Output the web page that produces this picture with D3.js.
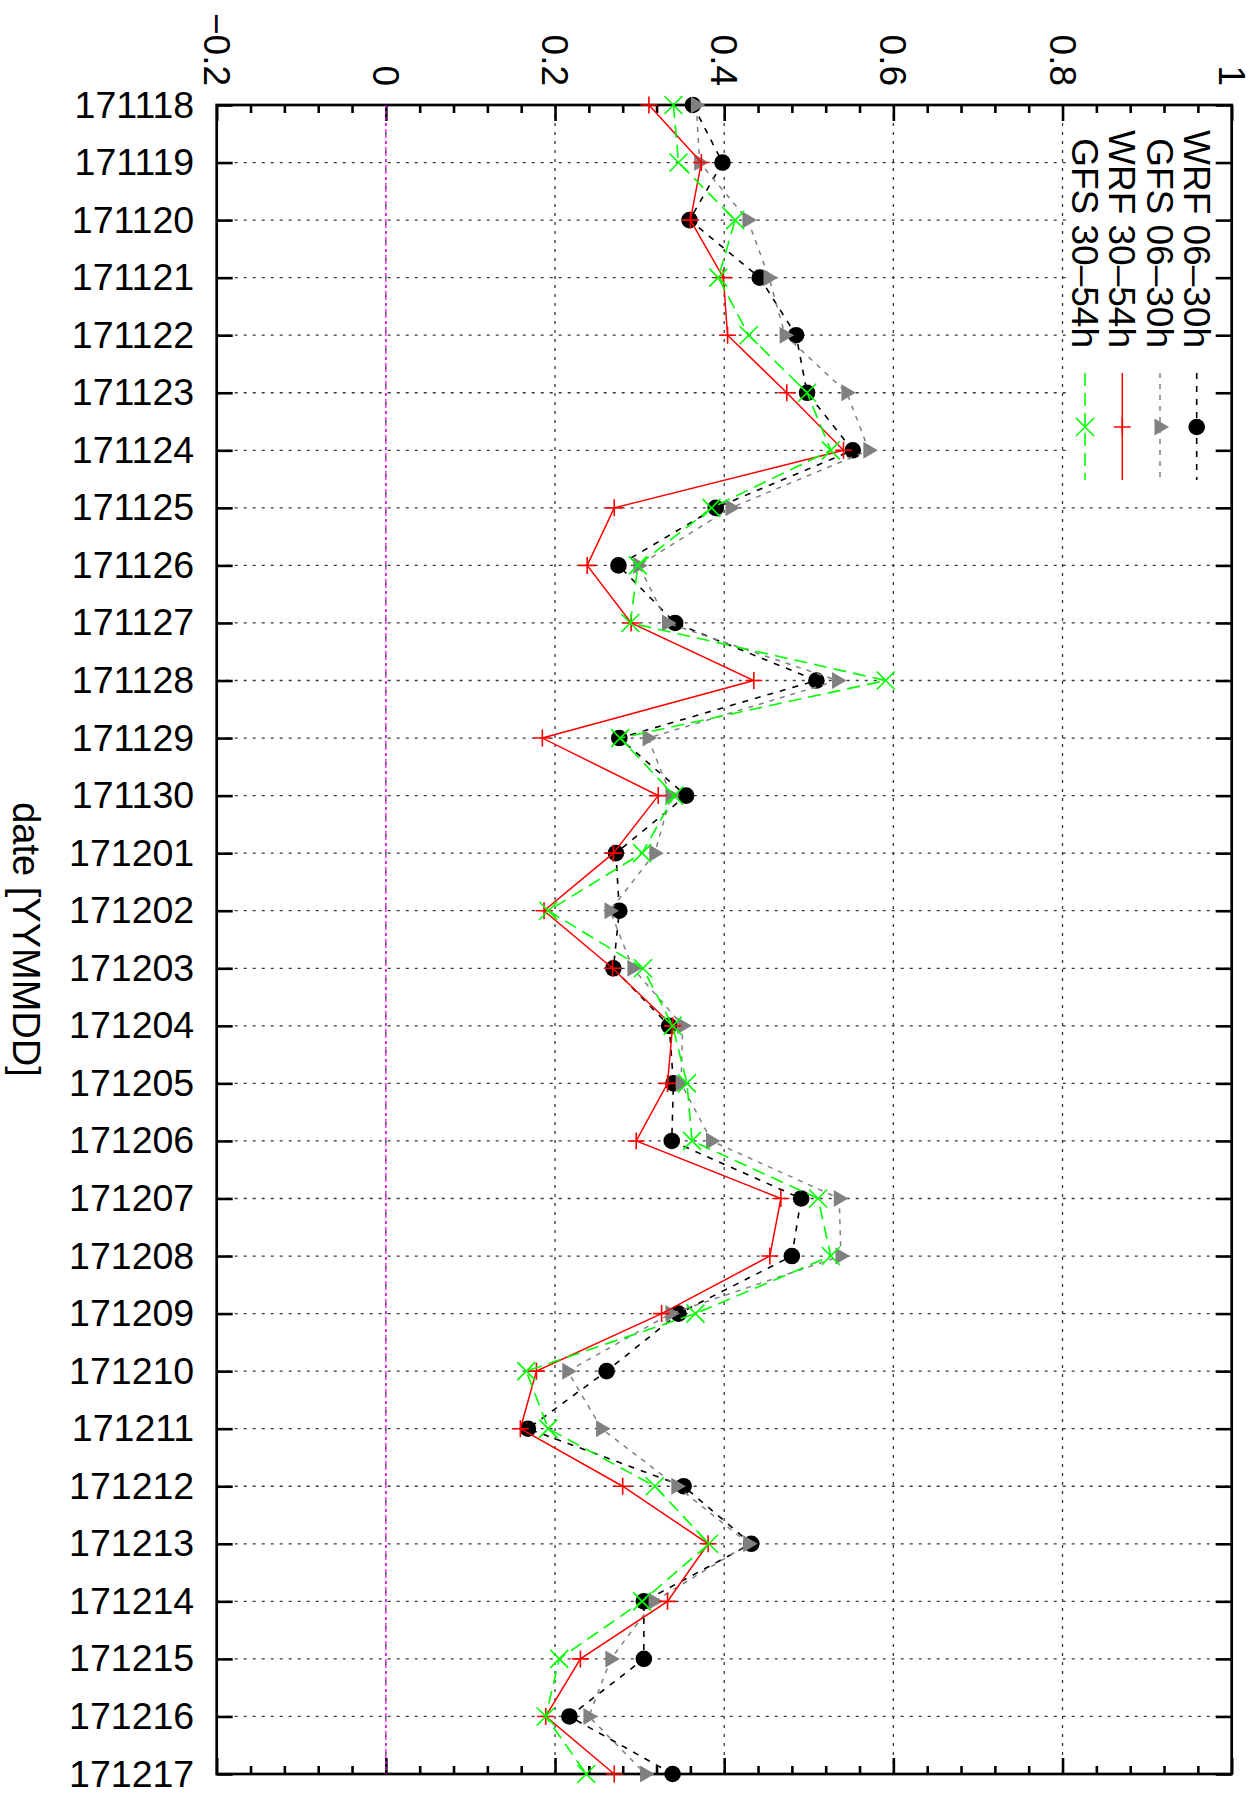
<!DOCTYPE html>
<html>
<head>
<meta charset="utf-8">
<script src="https://cdn.jsdelivr.net/npm/d3@7"></script>
<style>
  html, body { margin: 0; padding: 0; background: #fff; }
  svg { display: block; }
  text { font-family: "Liberation Sans", Arial, Helvetica, sans-serif; fill: #000; }
</style>
</head>
<body>
<svg id="chart" width="1257" height="1796"></svg>
<script>
// ---------------- data ----------------
const dates = ["171118","171119","171120","171121","171122","171123","171124","171125","171126","171127",
  "171128","171129","171130","171201","171202","171203","171204","171205","171206","171207",
  "171208","171209","171210","171211","171212","171213","171214","171215","171216","171217"];

const wrf0630 = [0.363,0.398,0.359,0.442,0.485,0.498,0.552,0.390,0.275,0.342,
  0.509,0.276,0.355,0.272,0.276,0.269,0.335,0.340,0.338,0.491,
  0.480,0.346,0.261,0.168,0.352,0.432,0.305,0.305,0.217,0.339];

const gfs0630 = [0.367,0.371,0.428,0.453,0.472,0.545,0.571,0.408,0.299,0.333,
  0.534,0.310,0.337,0.318,0.265,0.292,0.351,0.349,0.385,0.536,
  0.538,0.337,0.215,0.255,0.344,0.429,0.317,0.266,0.240,0.307];

const wrf3054 = [0.311,0.373,0.360,0.399,0.404,0.474,0.541,0.270,0.238,0.290,
  0.435,0.185,0.322,0.269,0.187,0.268,0.339,0.333,0.296,0.467,
  0.454,0.326,0.178,0.159,0.280,0.381,0.333,0.230,0.189,0.270];

const gfs3054 = [0.340,0.346,0.413,0.393,0.429,0.498,0.526,0.385,0.298,0.289,
  0.591,0.277,0.341,0.303,0.192,0.304,0.339,0.356,0.362,0.511,
  0.526,0.366,0.166,0.192,0.318,0.382,0.303,0.205,0.189,0.237];

const seriesNames = ["WRF 06–30h","GFS 06–30h","WRF 30–54h","GFS 30–54h"];
const valueTicks = [-0.2,0,0.2,0.4,0.6,0.8,1];
const valueTickLabels = ["−0.2","0","0.2","0.4","0.6","0.8","1"];
const axisTitle = "date [YYMMDD]";

// ---------------- layout ----------------
const L = 216.7, R = 1231.7, T = 105, B = 1774;
const svg = d3.select("#chart");
svg.append("rect").attr("width",1257).attr("height",1796).attr("fill","#fff");

const x = d3.scaleLinear().domain([-0.2, 1]).range([L, R]);
const y = d3.scalePoint().domain(dates).range([T, B]);

const styles = [
  {name: seriesNames[0], values: wrf0630, color:"#000000", dash:"6,7", width:1.6, sym:"dot"},
  {name: seriesNames[1], values: gfs0630, color:"#808080", dash:"5,6", width:1.5, sym:"tri"},
  {name: seriesNames[2], values: wrf3054, color:"#ff0000", dash:null, width:1.5, sym:"plus"},
  {name: seriesNames[3], values: gfs3054, color:"#00ff00", dash:"13,7", width:1.6, sym:"cross"}
];

// ---------------- grid ----------------
const grid = svg.append("g").attr("stroke","#383838").attr("stroke-width",1.3).attr("stroke-dasharray","3,6");
grid.selectAll("line.v").data(valueTicks.filter(v => v > -0.2 && v < 1)).enter().append("line")
  .attr("x1", d => x(d)).attr("x2", d => x(d)).attr("y1", T).attr("y2", B);
grid.selectAll("line.h").data(dates.slice(1, -1)).enter().append("line")
  .attr("x1", L).attr("x2", R).attr("y1", d => y(d)).attr("y2", d => y(d));

// legend opaque box
svg.append("rect").attr("x", 1066).attr("y", T + 1).attr("width", R - 1066 - 1).attr("height", 388).attr("fill", "#fff");

// ---------------- axes ----------------
const minorVals = d3.range(0, 31).filter(i => i % 5 !== 0).map(i => -0.2 + i * 0.04);

function styleAxis(g) {
  g.select(".domain").remove();
  g.selectAll(".tick line").attr("stroke","#000").attr("stroke-width",2.6);
}
svg.append("g").attr("transform",`translate(0,${T})`)
  .call(d3.axisTop(x).tickValues(valueTicks).tickSize(-16).tickFormat("")).call(styleAxis);
svg.append("g").attr("transform",`translate(0,${T})`)
  .call(d3.axisTop(x).tickValues(minorVals).tickSize(-8).tickFormat("")).call(styleAxis);
svg.append("g").attr("transform",`translate(0,${B})`)
  .call(d3.axisBottom(x).tickValues(valueTicks).tickSize(-16).tickFormat("")).call(styleAxis);
svg.append("g").attr("transform",`translate(0,${B})`)
  .call(d3.axisBottom(x).tickValues(minorVals).tickSize(-8).tickFormat("")).call(styleAxis);

const leftAx = svg.append("g").attr("transform",`translate(${L},0)`)
  .call(d3.axisLeft(y).tickSize(-16).tickPadding(22.5)).call(styleAxis);
leftAx.selectAll(".tick text").attr("font-size", 37.5).attr("font-family","Liberation Sans, Arial, sans-serif").attr("fill","#000");
svg.append("g").attr("transform",`translate(${R},0)`)
  .call(d3.axisRight(y).tickSize(-16).tickFormat("")).call(styleAxis);

// value tick labels (rotated)
svg.append("g").selectAll("text").data(valueTicks).enter().append("text")
  .attr("transform", d => `translate(${x(d)},86) rotate(90)`)
  .attr("text-anchor","end").attr("dy","0.35em").attr("font-size", 37)
  .text((d,i) => valueTickLabels[i]);

// axis title
svg.append("text").attr("transform", `translate(26,${(T+B)/2}) rotate(90)`)
  .attr("text-anchor","middle").attr("dy","0.35em").attr("font-size", 38).text(axisTitle);

// frame
svg.append("rect").attr("x", L).attr("y", T).attr("width", R - L).attr("height", B - T)
  .attr("fill","none").attr("stroke","#000").attr("stroke-width",2.7);

// zero line (magenta)
svg.append("line").attr("x1", x(0)).attr("x2", x(0)).attr("y1", T).attr("y2", B)
  .attr("stroke","#ff00ff").attr("stroke-width",1.3).attr("stroke-dasharray","3,3");

// ---------------- series ----------------
function drawSymbol(g, sym, color) {
  if (sym === "dot") {
    g.append("circle").attr("r", 8.3).attr("fill", color);
  } else if (sym === "tri") {
    g.append("path").attr("d","M-5.5,-8.5L9,0L-5.5,8.5Z").attr("fill", color);
  } else if (sym === "plus") {
    g.append("path").attr("d","M-8.5,0H8.5M0,-8.5V8.5").attr("stroke", color).attr("stroke-width",1.6).attr("fill","none");
  } else if (sym === "cross") {
    g.append("path").attr("d","M-9,-9L9,9M-9,9L9,-9").attr("stroke", color).attr("stroke-width",1.6).attr("fill","none");
  }
}

const line = d3.line().x(d => x(d.v)).y(d => y(d.date));
styles.forEach(s => {
  const pts = dates.map((dt, i) => ({date: dt, v: s.values[i]}));
  const g = svg.append("g");
  g.append("path").datum(pts).attr("d", line).attr("fill","none")
    .attr("stroke", s.color).attr("stroke-width", s.width)
    .attr("stroke-dasharray", s.dash);
  pts.forEach(p => {
    const pg = g.append("g").attr("transform", `translate(${x(p.v)},${y(p.date)})`);
    drawSymbol(pg, s.sym, s.color);
  });
});

// ---------------- legend ----------------
const legX = [1196.7, 1160, 1122.3, 1085];
styles.forEach((s, i) => {
  const lg = svg.append("g");
  lg.append("text").attr("transform", `translate(${legX[i]},348) rotate(90)`)
    .attr("text-anchor","end").attr("dy","0.35em").attr("font-size", 37).text(s.name);
  lg.append("line").attr("x1", legX[i]).attr("x2", legX[i]).attr("y1", 373).attr("y2", 480)
    .attr("stroke", s.color).attr("stroke-width", s.width).attr("stroke-dasharray", s.dash);
  const sg = lg.append("g").attr("transform", `translate(${legX[i]},427)`);
  drawSymbol(sg, s.sym, s.color);
});
</script>
</body>
</html>
